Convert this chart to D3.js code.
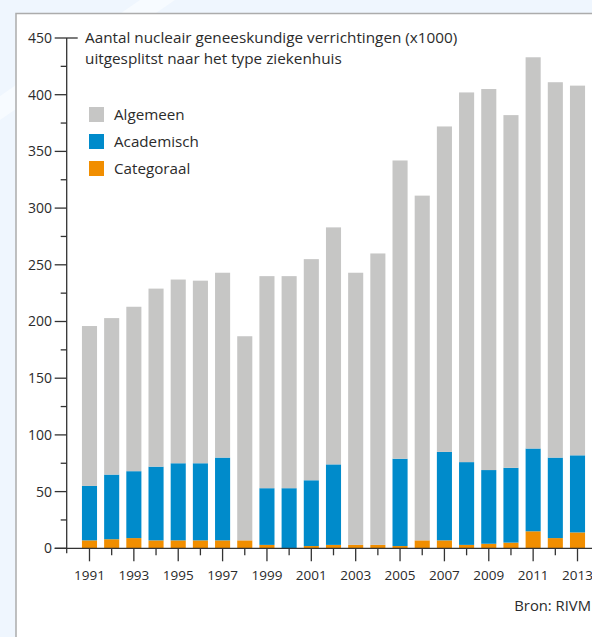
<!DOCTYPE html>
<html>
<head>
<meta charset="utf-8">
<script src="https://cdn.jsdelivr.net/npm/d3@7"></script>
<style>
  body { margin: 0; background: #eff6fe; }
  text { font-family: "Open Sans", sans-serif; fill: #2b2b2b; }
</style>
</head>
<body>
<div id="chart"></div>
<script>
// values in thousands
var years = d3.range(1991, 2014);
var categoraal = [7, 8, 9, 7, 7, 7, 7, 7, 3, 0, 2, 3, 3, 3, 2, 7, 7, 3, 4, 5, 15, 9, 14];
var academisch = [48, 57, 59, 65, 68, 68, 73, 0, 50, 53, 58, 71, 0, 0, 77, 0, 78, 73, 65, 66, 73, 71, 68];
var algemeen   = [141, 138, 145, 157, 162, 161, 163, 180, 187, 187, 195, 209, 240, 257, 263, 304, 287, 326, 336, 311, 345, 331, 326];
var seriesNames = ["Categoraal", "Academisch", "Algemeen"];
var colors = {Algemeen: "#c6c6c5", Academisch: "#008bcb", Categoraal: "#f18e00"};
var yTicks = d3.range(0, 451, 50);
var yMinor = d3.range(25, 450, 50);

var W = 592, H = 637;
var svg = d3.select("#chart").append("svg")
    .attr("width", W)
    .attr("height", H);

// background decoration + frame
svg.append("path")
    .attr("d", "M140,0 L175,0 L0,120 L0,96 Z")
    .attr("fill", "#f7fbff");
svg.append("rect")
    .attr("x", 16).attr("y", 13.5)
    .attr("width", W).attr("height", H)
    .attr("fill", "#fff")
    .attr("stroke", "#acacac")
    .attr("stroke-width", 1.5);

var table = years.map(function(y, i) {
  return {year: y, Categoraal: categoraal[i], Academisch: academisch[i], Algemeen: algemeen[i]};
});
var stacked = d3.stack().keys(seriesNames)(table);

var x = d3.scaleBand()
    .domain(years)
    .range([78.4, 588.6])
    .paddingInner(0.32)
    .paddingOuter(0.16);

var y = d3.scaleLinear()
    .domain([0, 450])
    .range([548.3, 38]);

var axisX0 = 66.7;

// bars
svg.append("g").selectAll("g")
  .data(stacked)
  .enter().append("g")
    .attr("fill", function(d) { return colors[d.key]; })
  .selectAll("rect")
  .data(function(d) { return d; })
  .enter().append("rect")
    .attr("x", function(d) { return x(d.data.year); })
    .attr("width", x.bandwidth())
    .attr("y", function(d) { return y(d[1]); })
    .attr("height", function(d) { return y(d[0]) - y(d[1]); });

// y axis
var yAxis = svg.append("g").attr("stroke", "#333").attr("stroke-width", 1.3);
yAxis.append("line")
    .attr("x1", axisX0).attr("x2", axisX0)
    .attr("y1", y(450)).attr("y2", y(0) + 5);
yAxis.selectAll(".major").data(yTicks).enter().append("line")
    .attr("x1", axisX0 - 12).attr("x2", function(d) { return d === 450 ? axisX0 + 11 : axisX0; })
    .attr("y1", function(d) { return y(d); }).attr("y2", function(d) { return y(d); });
yAxis.selectAll(".minor").data(yMinor).enter().append("line")
    .attr("x1", axisX0 - 6).attr("x2", axisX0)
    .attr("y1", function(d) { return y(d); }).attr("y2", function(d) { return y(d); });
svg.append("g").selectAll("text").data(yTicks).enter().append("text")
    .attr("x", 52)
    .attr("y", function(d) { return y(d); })
    .attr("dy", "0.35em")
    .attr("text-anchor", "end")
    .style("font-size", "14px")
    .text(function(d) { return d; });

// x axis
var xAxis = svg.append("g").attr("stroke", "#333").attr("stroke-width", 1.3);
xAxis.append("line")
    .attr("x1", axisX0 - 12).attr("x2", W)
    .attr("y1", y(0)).attr("y2", y(0));
xAxis.selectAll(".tick").data(years).enter().append("line")
    .attr("x1", function(d) { return x(d) + x.bandwidth() / 2; })
    .attr("x2", function(d) { return x(d) + x.bandwidth() / 2; })
    .attr("y1", y(0))
    .attr("y2", function(d) { return y(0) + (d % 2 ? 13 : 7); });
svg.append("g").selectAll("text").data(years.filter(function(d) { return d % 2; }))
  .enter().append("text")
    .attr("x", function(d) { return x(d) + x.bandwidth() / 2; })
    .attr("y", 580)
    .attr("text-anchor", "middle")
    .style("font-size", "13.5px")
    .text(function(d) { return d; });

// title
var title = svg.append("text").attr("x", 85).style("font-size", "15.3px");
title.append("tspan").attr("x", 85).attr("y", 43).text("Aantal nucleair geneeskundige verrichtingen (x1000)");
title.append("tspan").attr("x", 85).attr("y", 63.5).text("uitgesplitst naar het type ziekenhuis");

// legend
var legend = svg.append("g").selectAll("g")
  .data(seriesNames.slice().reverse())
  .enter().append("g")
    .attr("transform", function(d, i) { return "translate(89," + (107 + i * 27) + ")"; });
legend.append("rect")
    .attr("width", 15).attr("height", 15)
    .attr("fill", function(d) { return colors[d]; });
legend.append("text")
    .attr("x", 25).attr("y", 7.5).attr("dy", "0.35em")
    .style("font-size", "15.2px")
    .text(function(d) { return d; });

// source
svg.append("text")
    .attr("x", 591).attr("y", 611)
    .attr("text-anchor", "end")
    .style("font-size", "14.8px")
    .text("Bron: RIVM");
</script>
</body>
</html>
